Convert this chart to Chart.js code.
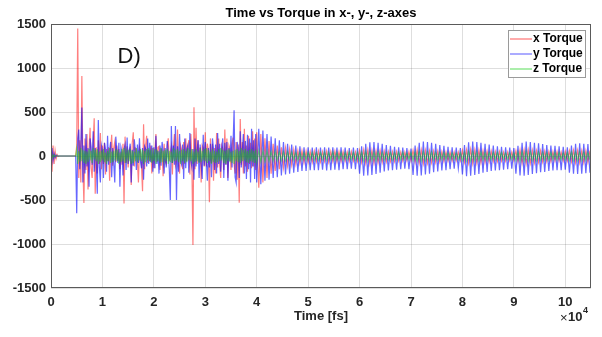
<!DOCTYPE html>
<html>
<head>
<meta charset="utf-8">
<script src="https://cdn.jsdelivr.net/npm/chart.js@4.4.0/dist/chart.umd.min.js"></script>
<style>
  html, body { margin: 0; padding: 0; background: #fff; }
  canvas { display: block; }
</style>
</head>
<body>
<canvas id="torqueChart" width="602" height="337"></canvas>
<script>
// sampling: 200 fs steps for the first 200 samples (0 - 39800 fs), then 400 fs steps up to 104800 fs
const denseStepFs = 200;
const denseCount = 200;
const coarseStepFs = 400;

const xTorque = [
  // 0 - 39800 fs
  230, -180, 120, -90, 60, -30, 15, -5, 0, 0,
  0, 0, 0, 0, 0, 0, 0, 0, 0, 0,
  0, 0, 0, 0, 0, 120, 1450, -250, 180, -300,
  910, -120, -535, 200, -160, 250, -380, 90, 320, -140,
  -250, 150, 430, -430, 100, -200, 180, -90, 260, -150,
  120, -90, 150, -210, 80, -60, 100, -280, 60, 240,
  -110, 90, 160, -70, 120, -60, 80, -150, 50, -100,
  140, -540, 220, -80, 110, -130, 60, 90, -330, 150,
  270, -120, 90, 80, -60, -300, 100, 50, -120, -400,
  360, -150, 120, 230, -80, 70, -60, 120, -200, 90,
  -140, 60, 250, -70, 100, 110, -160, 80, 60, -230,
  140, -60, -90, 120, 200, -60, 40, 110, -210, 100,
  250, -110, -60, 300, -100, -200, 120, 70, -150, 160,
  -90, 200, -60, 110, 180, -210, 250, -110, -1010, 555,
  -150, 320, -90, 180, -70, 100, -300, 120, 90, -120,
  270, -120, 140, 60, -525, 200, -80, 140, -280, 90,
  -200, 260, -130, 200, -100, -250, 120, 80, -160, 300,
  -100, 200, -250, 120, 80, -160, 130, 210, -90, -200,
  160, -270, 130, -530, 420, -100, 160, -200, 310, -120,
  120, -180, 230, -90, 150, -140, 280, -120, 200, -160,
  // 40000 - 104800 fs
  270, -360, 250, -300, 200, -250, 170, -200, 140, -170,
  120, -150, 100, -130, 90, -110, 80, -100, 70, -90,
  60, -80, 60, -75, 55, -70, 50, -70, 55, -65,
  55, -65, 50, -60, 55, -70, 50, -60, 55, -65,
  50, -60, 50, -55, 45, -60, 50, -55, 45, -60,
  65, -70, 70, -80, 70, -85, 65, -80, 60, -75,
  60, -70, 55, -65, 50, -60, 50, -60, 50, -55,
  45, -55, 45, -50, 50, -55, 65, -70, 70, -80,
  70, -85, 65, -80, 60, -75, 55, -70, 55, -65,
  50, -60, 45, -55, 45, -55, 45, -50, 45, -50,
  65, -70, 70, -80, 75, -85, 70, -80, 65, -75,
  60, -70, 55, -65, 55, -60, 50, -60, 50, -55,
  45, -55, 45, -50, 45, -50, 60, -65, 70, -80,
  70, -85, 70, -80, 65, -75, 60, -70, 60, -65,
  55, -60, 50, -60, 50, -55, 50, -55, 45, -55,
  50, -55, 60, -65, 65, -75, 65, -75, 60, -75,
  60, -70, 60
];

const yTorque = [
  // 0 - 39800 fs
  -60, 90, -50, 30, -20, 10, 0, 0, 0, 0,
  0, 0, 0, 0, 0, 0, 0, 0, 0, 0,
  0, 0, 0, 0, 0, -650, 200, 300, -150, 100,
  550, -300, 120, -200, 250, -120, 90, -350, 200, 100,
  -100, 280, -180, 90, -60, -430, 410, -120, -300, 120,
  60, -250, 150, 80, -180, 230, -100, 70, 160, -240,
  90, -80, -300, 220, 60, -80, 150, -350, 100, 40,
  -220, 80, 130, -160, 210, -90, 60, 140, -300, 70,
  -110, 190, 50, -160, 130, -80, 200, -60, -140, 90,
  -270, 110, 80, -120, 200, -90, 150, -70, 120, -180,
  100, -140, 230, -90, 60, -200, 120, -110, 160, 60,
  -200, 90, -130, 170, 40, -150, -500, 340, -80, 120,
  -100, 340, -500, 110, -180, 250, -60, -100, 130, -260,
  200, -140, 80, 120, -190, 260, -60, -130, 80, -270,
  200, -120, 70, 180, -250, 130, -90, -260, 240, -110,
  160, -60, -280, 90, -130, 140, -240, 200, 80, -160,
  130, -200, 260, -90, 140, -180, 90, 200, -250, 150,
  -100, 160, -280, 90, -60, 230, -130, 140, 520, -240,
  -300, 160, 90, -250, 280, -130, 60, 250, -200, 170,
  -260, 240, -150, 200, -300, 310, -120, 180, -260, 250,
  // 40000 - 104800 fs
  -300, 310, -320, 290, -280, 250, -270, 220, -250, 200,
  -240, 180, -220, 160, -210, 140, -200, 130, -190, 120,
  -180, 110, -170, 100, -170, 100, -160, 95, -160, 100,
  -160, 95, -155, 100, -165, 95, -160, 100, -155, 95,
  -160, 100, -150, 95, -150, 90, -145, 95, -150, 90,
  -200, 110, -225, 140, -220, 155, -215, 160, -205, 150,
  -190, 140, -175, 125, -165, 115, -160, 105, -155, 100,
  -150, 95, -145, 90, -150, 85, -215, 120, -225, 150,
  -220, 165, -210, 160, -200, 150, -185, 140, -175, 125,
  -165, 115, -160, 105, -150, 100, -145, 95, -140, 90,
  -210, 125, -230, 155, -225, 165, -215, 160, -205, 150,
  -190, 140, -180, 130, -170, 120, -165, 110, -160, 105,
  -155, 100, -150, 95, -145, 90, -200, 115, -220, 150,
  -225, 165, -215, 160, -205, 150, -195, 145, -185, 135,
  -180, 125, -170, 120, -165, 115, -160, 110, -160, 105,
  -155, 100, -190, 120, -200, 140, -205, 145, -200, 140,
  -195, 135, -190
];

const zTorque = [
  // 0 - 39800 fs
  30, -25, 15, -10, 5, 0, 0, 0, 0, 0,
  0, 0, 0, 0, 0, 0, 0, 0, 0, 0,
  0, 0, 0, 0, 0, 80, -90, 60, -70, 90,
  -60, 70, -80, 60, -90, 50, -70, 80, -50, 60,
  -80, 90, -40, 70, -60, 80, -90, 50, -70, 60,
  -50, 80, -70, 40, -90, 60, -60, 90, -80, 50,
  -70, 60, -50, 80, -60, 70, -90, 40, -70, 80,
  -60, 90, -80, 50, -40, 70, -60, 80, -90, 60,
  -80, 50, -60, 90, -70, 60, -50, 80, -60, 70,
  -90, 60, -70, 80, -50, 90, -60, 70, -80, 40,
  -60, 80, -90, 70, -60, 50, -80, 90, -70, 60,
  -50, 70, -60, 80, -90, 60, -70, 50, -80, 90,
  -60, 70, -50, 80, -70, 60, -90, 70, -60, 80,
  -80, 60, -70, 90, -50, 70, -60, 80, -90, 50,
  -70, 80, -60, 50, -80, 90, -70, 60, -50, 80,
  -60, 90, -80, 70, -60, 50, -90, 80, -70, 60,
  -80, 50, -70, 80, -60, 90, -50, 70, -80, 60,
  -90, 70, -60, 80, -70, 50, -80, 60, -90, 70,
  -60, 80, -70, 60, -80, 90, -60, 70, -50, 80,
  -70, 60, -80, 70, -60, 80, -70, 60, -80, 70,
  // 40000 - 104800 fs
  -70, 60, -65, 55, -60, 55, -55, 50, -55, 50,
  -50, 45, -50, 45, -50, 45, -45, 45, -45, 40,
  -45, 40, -45, 40, -45, 40, -40, 40, -45, 40,
  -45, 40, -40, 45, -45, 40, -40, 45, -45, 40,
  -40, 40, -45, 40, -40, 45, -40, 40, -45, 40,
  -50, 45, -55, 50, -55, 50, -50, 45, -50, 45,
  -45, 40, -45, 40, -40, 40, -45, 40, -40, 40,
  -40, 40, -40, 35, -40, 40, -50, 45, -55, 50,
  -55, 50, -50, 45, -50, 45, -45, 40, -45, 40,
  -40, 40, -40, 35, -40, 35, -40, 35, -40, 35,
  -50, 45, -55, 50, -55, 50, -50, 45, -50, 45,
  -45, 40, -45, 40, -40, 40, -40, 40, -40, 40,
  -40, 35, -40, 35, -40, 35, -50, 45, -55, 50,
  -55, 50, -55, 50, -50, 45, -50, 45, -45, 40,
  -45, 40, -45, 40, -40, 40, -40, 40, -40, 35,
  -40, 40, -50, 45, -50, 45, -50, 45, -50, 45,
  -45, 40, -45
];

const timeFs = xTorque.map((_, i) => i < denseCount
    ? i * denseStepFs
    : denseCount * denseStepFs + (i - denseCount) * coarseStepFs);

const seriesNames = ['x Torque', 'y Torque', 'z Torque'];
const seriesColors = ['rgba(255, 0, 0, 0.5)', 'rgba(0, 0, 255, 0.6)', 'rgba(20, 220, 0, 0.5)'];
const legendColors = ['#ff8f8f', '#8f8fff', '#8fe88f'];
const xTickValues = [0, 10000, 20000, 30000, 40000, 50000, 60000, 70000, 80000, 90000, 100000];
const xTickLabels = ['0', '1', '2', '3', '4', '5', '6', '7', '8', '9', '10'];
const yTickValues = [-1500, -1000, -500, 0, 500, 1000, 1500];
const yTickLabels = ['-1500', '-1000', '-500', '0', '500', '1000', '1500'];

const FONT = '"Liberation Sans", Arial, Helvetica, sans-serif';
const AXIS_COLOR = '#262626';

const toPoints = (vals) => vals.map((v, i) => ({ x: timeFs[i], y: v }));

// title, axis label, exponent, panel tag, legend box and axes frame
const figurePlugin = {
    id: 'figureDecor',
    afterDraw(chart) {
        const { ctx, chartArea: a, scales } = chart;
        const cx = (a.left + a.right) / 2;
        ctx.save();

        // box around axes
        ctx.strokeStyle = '#5a5a5a';
        ctx.lineWidth = 1;
        ctx.strokeRect(a.left + 0.5, a.top + 0.5, a.right - a.left - 1, a.bottom - a.top - 1);

        ctx.fillStyle = '#000';
        ctx.textAlign = 'center';
        ctx.textBaseline = 'middle';
        ctx.font = 'bold 13px ' + FONT;
        ctx.fillText('Time vs Torque in x-, y-, z-axes', cx, 13);

        ctx.fillStyle = AXIS_COLOR;
        ctx.fillText('Time [fs]', cx, 316);

        // x10^4 exponent
        ctx.textAlign = 'left';
        ctx.font = '13px ' + FONT;
        ctx.fillText('\u00d7', 560, 318);
        ctx.font = 'bold 13px ' + FONT;
        ctx.fillText('10', 568, 317);
        ctx.font = 'bold 9px ' + FONT;
        ctx.fillText('4', 583, 311);

        // panel tag
        ctx.fillStyle = '#111';
        ctx.textAlign = 'center';
        ctx.font = '22px ' + FONT;
        ctx.fillText('D)', scales.x.getPixelForValue(15200), scales.y.getPixelForValue(1130));

        // legend
        const lx = 508, ly = 30, lw = 77, lh = 47;
        ctx.fillStyle = '#fff';
        ctx.fillRect(lx, ly, lw, lh);
        ctx.strokeStyle = '#9a9a9a';
        ctx.lineWidth = 1;
        ctx.strokeRect(lx + 0.5, ly + 0.5, lw, lh);
        ctx.font = 'bold 12px ' + FONT;
        ctx.textAlign = 'left';
        chart.data.datasets.forEach((ds, i) => {
            const y = ly + 9 + i * 15;
            ctx.strokeStyle = legendColors[i];
            ctx.lineWidth = 1.5;
            ctx.beginPath();
            ctx.moveTo(lx + 2, y);
            ctx.lineTo(lx + 24, y);
            ctx.stroke();
            ctx.fillStyle = '#000';
            ctx.fillText(ds.label, lx + 25, y);
        });
        ctx.restore();
    }
};

new Chart(document.getElementById('torqueChart'), {
    type: 'line',
    data: {
        datasets: [
            { label: seriesNames[0], data: toPoints(xTorque), borderColor: seriesColors[0], order: 3 },
            { label: seriesNames[1], data: toPoints(yTorque), borderColor: seriesColors[1], order: 2 },
            { label: seriesNames[2], data: toPoints(zTorque), borderColor: seriesColors[2], order: 1 }
        ]
    },
    options: {
        responsive: false,
        animation: false,
        devicePixelRatio: 1,
        layout: { padding: { top: 24, right: 11, left: 0, bottom: 0 } },
        elements: {
            line: { borderWidth: 1.2, tension: 0, fill: false },
            point: { radius: 0 }
        },
        plugins: { legend: { display: false }, title: { display: false }, tooltip: { enabled: false } },
        scales: {
            x: {
                type: 'linear', min: 0, max: 105000,
                afterBuildTicks: (s) => { s.ticks = xTickValues.map(v => ({ value: v })); },
                afterFit: (s) => { s.height = 49; },
                ticks: {
                    callback: (v, i) => xTickLabels[i],
                    font: { family: FONT, size: 13, weight: 'bold' },
                    color: AXIS_COLOR, padding: 7, maxRotation: 0, autoSkip: false
                },
                grid: { color: 'rgba(0,0,0,0.13)', drawTicks: false },
                border: { display: false }
            },
            y: {
                min: -1500, max: 1500,
                afterBuildTicks: (s) => { s.ticks = yTickValues.map(v => ({ value: v })); },
                afterFit: (s) => { s.width = 51; },
                ticks: {
                    callback: (v, i) => yTickLabels[i],
                    font: { family: FONT, size: 13, weight: 'bold' },
                    color: AXIS_COLOR, padding: 5, autoSkip: false
                },
                grid: { color: 'rgba(0,0,0,0.13)', drawTicks: false },
                border: { display: false }
            }
        }
    },
    plugins: [figurePlugin]
});
</script>
</body>
</html>
